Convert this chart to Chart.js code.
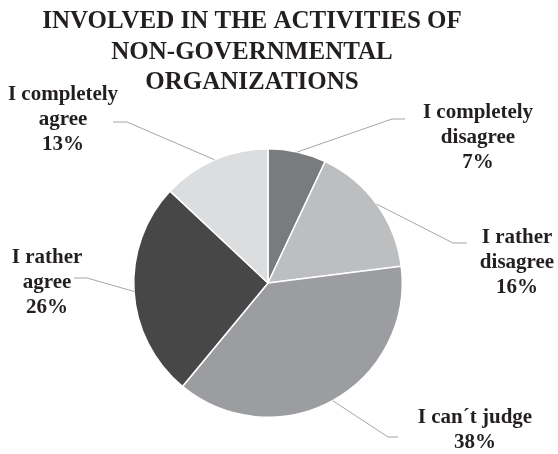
<!DOCTYPE html>
<html>
<head>
<meta charset="utf-8">
<script src="https://cdn.jsdelivr.net/npm/chart.js@4.4.1/dist/chart.umd.min.js"></script>
<style>
  html, body { margin: 0; padding: 0; background: #fff; }
  #wrap { width: 558px; height: 454px; }
</style>
</head>
<body>
<div id="wrap"><canvas id="myChart" width="558" height="454"></canvas></div>
<script>
  // data
  var titleLines = ["INVOLVED IN THE ACTIVITIES OF", "NON-GOVERNMENTAL", "ORGANIZATIONS"];
  var categories = [
    ["I completely", "disagree"],
    ["I rather", "disagree"],
    ["I can\u00b4t judge"],
    ["I rather", "agree"],
    ["I completely", "agree"]
  ];
  var percents = [7, 16, 38, 26, 13];
  var sliceColors = ["#7a7b7f", "#bdbec0", "#9c9da1", "#474747", "#dcdddf"];

  // label placement: text centre x, first line y, elbow point, end of short horizontal
  var labelSpots = [
    { x: 478, y: 113, elbow: [392, 119], end: [405, 119] },
    { x: 517, y: 238, elbow: [453, 243], end: [467, 243] },
    { x: 475, y: 418, elbow: [388, 437], end: [398, 437] },
    { x: 47,  y: 258, elbow: [87, 278],  end: [74, 278] },
    { x: 63,  y: 95,  elbow: [127, 122], end: [113, 122] }
  ];

  const textColor = "#231f20";
  const serif = "'Liberation Serif', 'Times New Roman', Times, serif";

  const labelPlugin = {
    id: "pieLabels",
    afterDraw(chart) {
      const ctx = chart.ctx;
      ctx.save();
      // title
      ctx.fillStyle = textColor;
      ctx.textAlign = "center";
      ctx.textBaseline = "middle";
      ctx.font = "bold 25px " + serif;
      titleLines.forEach((t, i) => ctx.fillText(t, 252, 22 + i * 30.5));

      const arcs = chart.getDatasetMeta(0).data;
      arcs.forEach((arc, i) => {
        const p = arc.getProps(["x", "y", "startAngle", "endAngle", "outerRadius"], true);
        const mid = (p.startAngle + p.endAngle) / 2;
        const sx = p.x + Math.cos(mid) * p.outerRadius;
        const sy = p.y + Math.sin(mid) * p.outerRadius;
        const s = labelSpots[i];
        ctx.strokeStyle = "#a6a6a6";
        ctx.lineWidth = 1;
        ctx.beginPath();
        ctx.moveTo(sx, sy);
        ctx.lineTo(s.elbow[0], s.elbow[1]);
        ctx.lineTo(s.end[0], s.end[1]);
        ctx.stroke();

        const lines = categories[i].concat([percents[i] + "%"]);
        ctx.fillStyle = textColor;
        ctx.font = "bold 21px " + serif;
        lines.forEach((l, j) => ctx.fillText(l, s.x, s.y + j * 24.8));
      });
      ctx.restore();
    }
  };

  new Chart("myChart", {
    type: "pie",
    data: {
      labels: categories.map(c => c.join(" ")),
      datasets: [{
        data: percents,
        backgroundColor: sliceColors,
        borderColor: "#ffffff",
        borderWidth: 1.5,
        hoverOffset: 0
      }]
    },
    options: {
      responsive: false,
      animation: false,
      layout: { padding: { left: 133, right: 155, top: 148, bottom: 36 } },
      plugins: {
        legend: { display: false },
        title: { display: false },
        tooltip: { enabled: false }
      }
    },
    plugins: [labelPlugin]
  });
</script>
</body>
</html>
